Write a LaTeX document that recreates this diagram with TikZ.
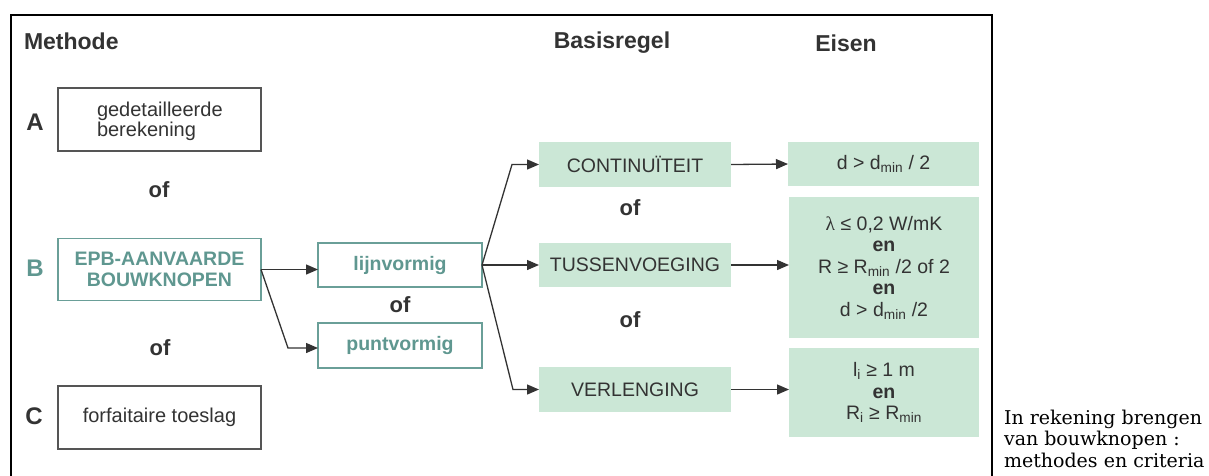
\documentclass[tikz,border=0pt]{standalone}
\usepackage{fontspec}
\setmainfont{Liberation Sans}
\newfontfamily\capfont{DejaVu Serif}
\newfontfamily\lamfont{Liberation Serif}
\usetikzlibrary{arrows.meta}
\definecolor{txt}{HTML}{333333}
\definecolor{teal}{HTML}{5F9790}
\definecolor{tealline}{HTML}{6A9F98}
\definecolor{mint}{HTML}{CBE7D6}
\definecolor{gline}{HTML}{555555}
\newcommand{\sbs}[1]{\textsubscript{#1}}
\begin{document}
\begin{tikzpicture}[x=1pt,y=-1pt,
  every node/.style={inner sep=0pt,outer sep=0pt,text=txt},
  plainbox/.style={draw=gline,line width=1.1pt,fill=white},
  tealbox/.style={draw=tealline,line width=1.3pt,text=teal,font=\fontsize{19.5}{21}\selectfont\bfseries,align=center},
  mintbox/.style={fill=mint,font=\fontsize{19.5}{21.5}\selectfont,align=center},
  head/.style={font=\fontsize{23}{25}\selectfont\bfseries},
  orlbl/.style={font=\fontsize{22}{24}\selectfont\bfseries},
  letter/.style={font=\fontsize{24}{26}\selectfont\bfseries},
  conn/.style={draw=txt,line width=1.3pt},
  arr/.style={conn,-{Triangle[length=12pt,width=10pt]}}
]
\useasboundingbox (0,0) rectangle (1209,475);
\fill[white] (0,0) rectangle (1209,475);
% frame
\draw[line width=2pt,black] (11,476) -- (11,15) -- (992,15) -- (992,476);

% headers
\node[head,anchor=west] (hm) at (24,41) {Methode};
\node[head] (hb) at (612,43) {Basisregel};
\node[head] (he) at (846,43) {Eisen};

% method boxes
\node[plainbox,minimum width=203pt,minimum height=63pt] (A) at (159.5,119.5) {};
\node[anchor=west,align=left,font=\fontsize{20}{20}\selectfont] (At) at (97,121) {gedetailleerde\\berekening};
\node[letter] (LA) at (35,122) {A};

\node[orlbl] (of1) at (159,190) {of};

\node[tealbox,minimum width=203pt,minimum height=62pt] (B) at (159.5,269.5) {EPB-AANVAARDE\\BOUWKNOPEN};
\node[letter,text=teal] (LB) at (35,268) {B};

\node[orlbl] (of2) at (160,348) {of};

\node[plainbox,minimum width=203pt,minimum height=63pt,font=\fontsize{20}{20}\selectfont] (C) at (159.5,417.5) {forfaitaire toeslag};
\node[letter] (LC) at (34,416) {C};

% lijn / punt
\node[tealbox,minimum width=164pt,minimum height=44pt] (lijn) at (400,265) {lijnvormig};
\node[orlbl] (of3) at (400,305) {of};
\node[tealbox,minimum width=164pt,minimum height=45pt] (punt) at (400,345.5) {puntvormig};

% basisregel
\node[mintbox,minimum width=192pt,minimum height=45pt] (cont) at (635,164.5) {CONTINUÏTEIT};
\node[orlbl] (of4) at (630,208) {of};
\node[mintbox,minimum width=192pt,minimum height=44pt] (tuss) at (635,265) {TUSSENVOEGING};
\node[orlbl] (of5) at (630,320) {of};
\node[mintbox,minimum width=192pt,minimum height=45pt] (verl) at (635,389.5) {VERLENGING};

% eisen
\node[mintbox,minimum width=191pt,minimum height=44pt] (e1) at (883.5,164) {d > d\sbs{min} / 2};
\node[mintbox,minimum width=190pt,minimum height=141pt] (e2) at (884,267.5) {{\lamfont λ} ≤ 0,2 W/mK\\\textbf{en}\\R ≥ R\sbs{min} /2 of 2\\\textbf{en}\\d > d\sbs{min} /2};
\node[mintbox,minimum width=190pt,minimum height=89pt] (e3) at (884,392.5) {l\sbs{i} ≥ 1 m\\\textbf{en}\\R\sbs{i} ≥ R\sbs{min}};

% caption
\node[anchor=north west,align=left,font=\capfont\fontsize{19}{21.5}\selectfont,text=black] (cap) at (1004,410) {In rekening brengen\\van bouwknopen~:\\methodes en criteria};

% connectors
\coordinate (bp) at (288,348);
\coordinate (lc) at (512,164.5);
\coordinate (lv) at (513,389.5);
\draw[arr] (B.east) -- (B.east -| lijn.west);
\draw[arr] (B.east) -- (bp) -- (bp -| punt.west);
\draw[arr] (lijn.east) -- (lc) -- (cont.west);
\draw[arr] (lijn.east) -- (tuss.west);
\draw[arr] (lijn.east) -- (lv) -- (verl.west);
\draw[arr] (cont.east) -- (e1.west);
\draw[arr] (tuss.east) -- (tuss.east -| e2.west);
\draw[arr] (verl.east) -- (verl.east -| e3.west);
\end{tikzpicture}
\end{document}
